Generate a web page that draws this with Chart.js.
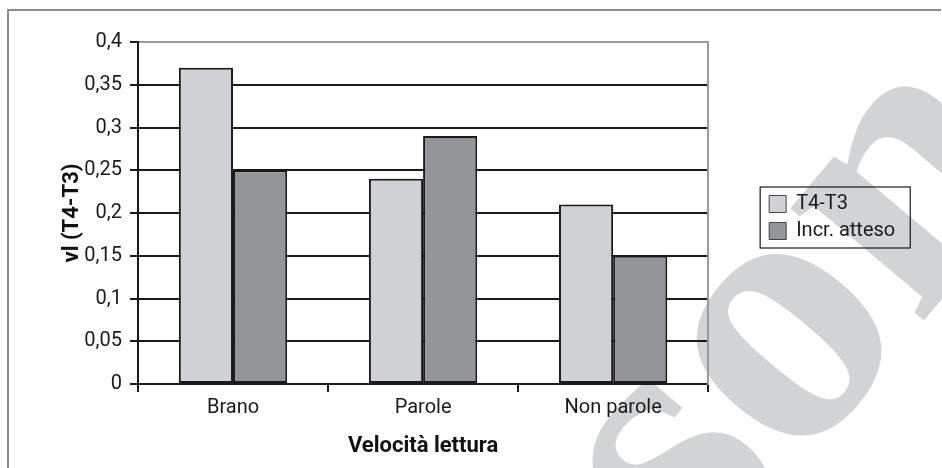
<!DOCTYPE html>
<html>
<head>
<meta charset="utf-8">
<script src="https://cdn.jsdelivr.net/npm/chart.js@4"></script>
<style>
  body { margin: 0; background: #fff; }
  canvas { display: block; }
</style>
</head>
<body>
<canvas id="chart" width="942" height="468"></canvas>
<script>
const categories = ['Brano', 'Parole', 'Non parole'];
const t4t3 = [0.37, 0.24, 0.21];
const incrAtteso = [0.25, 0.29, 0.15];
const seriesNames = ['T4-T3', 'Incr. atteso'];
const yMin = 0;
const yMax = 0.4;
const yStep = 0.05;

Chart.defaults.font.family = 'Roboto, "Noto Sans", sans-serif';
Chart.defaults.color = '#1a1a1a';

// white page, watermark behind everything
const backdrop = {
    id: 'backdrop',
    beforeDraw(chart) {
        const ctx = chart.ctx;
        ctx.save();
        ctx.fillStyle = '#fff';
        ctx.fillRect(0, 0, chart.width, chart.height);
        ctx.translate(212, 1169);
        ctx.rotate(-50 * Math.PI / 180);
        ctx.font = 'bold 380px "Liberation Serif", serif';
        ctx.fillStyle = '#d1d3d5';
        ctx.textBaseline = 'alphabetic';
        ctx.fillText('Pearson', 0, 0);
        ctx.restore();
    },
    afterDraw(chart) {
        const ctx = chart.ctx;
        ctx.save();
        // outer frame (top + left)
        ctx.strokeStyle = '#8c8c8c';
        ctx.lineWidth = 2;
        ctx.beginPath();
        ctx.moveTo(8, 470);
        ctx.lineTo(8, 10);
        ctx.lineTo(941, 10);
        ctx.stroke();
        // legend box
        const boxes = chart.legend.legendHitBoxes;
        if (boxes && boxes.length) {
            const first = boxes[0], last = boxes[boxes.length - 1];
            const left = first.left - 9;
            const right = Math.max(...boxes.map(b => b.left + b.width)) + 15;
            const top = first.top - 7;
            const bottom = last.top + last.height + 7;
            ctx.strokeStyle = '#1a1a1a';
            ctx.lineWidth = 1.2;
            ctx.strokeRect(left, top, right - left, bottom - top);
        }
        ctx.restore();
    }
};

new Chart(document.getElementById('chart').getContext('2d'), {
    type: 'bar',
    data: {
        labels: categories,
        datasets: [{
            label: seriesNames[0],
            data: t4t3,
            backgroundColor: '#cfd1d4',
            borderColor: '#1a1a1a',
            borderWidth: 2,
            borderSkipped: false,
            categoryPercentage: 0.57,
            barPercentage: 1.0
        }, {
            label: seriesNames[1],
            data: incrAtteso,
            backgroundColor: '#939598',
            borderColor: '#1a1a1a',
            borderWidth: 2,
            borderSkipped: false,
            categoryPercentage: 0.57,
            barPercentage: 1.0
        }]
    },
    options: {
        responsive: false,
        animation: false,
        layout: { padding: { left: 58, top: 42, right: 39, bottom: 8 } },
        plugins: {
            tooltip: { enabled: false },
            legend: {
                position: 'right',
                fullSize: false,
                title: { display: true, text: '', font: { size: 5 }, padding: 1.5 },
                labels: {
                    boxWidth: 17,
                    boxHeight: 17,
                    padding: 7,
                    font: { size: 20 },
                    color: '#1a1a1a',
                    generateLabels(chart) {
                        return chart.data.datasets.map((ds, i) => ({
                            text: ds.label,
                            fillStyle: ds.backgroundColor,
                            strokeStyle: '#444',
                            lineWidth: 1,
                            datasetIndex: i
                        }));
                    }
                }
            }
        },
        scales: {
            x: {
                offset: true,
                grid: {
                    offset: true,
                    drawOnChartArea: false,
                    drawTicks: true,
                    tickLength: 8,
                    color: '#1a1a1a',
                    lineWidth: 2
                },
                border: { color: '#1a1a1a', width: 2 },
                ticks: { font: { size: 20 }, padding: 4, color: '#1a1a1a' },
                title: {
                    display: true,
                    text: 'Velocità lettura',
                    font: { size: 22, weight: 'bold' },
                    color: '#111',
                    padding: { top: 11, bottom: 0 }
                },
                afterFit: s => { s.height = 76; }
            },
            y: {
                min: yMin,
                max: yMax,
                grid: {
                    tickLength: 8,
                    lineWidth: 2,
                    color: ctx => (ctx.tick && Math.abs(ctx.tick.value - yMax) < 1e-9) ? '#9a9a9a' : '#1a1a1a',
                    tickColor: '#1a1a1a'
                },
                border: { color: '#1a1a1a', width: 2 },
                ticks: {
                    stepSize: yStep,
                    padding: 8,
                    font: { size: 20 },
                    color: '#1a1a1a',
                    callback: v => String(Math.round(v * 100) / 100).replace('.', ',')
                },
                title: {
                    display: true,
                    text: 'vl (T4-T3)',
                    font: { size: 22, weight: 'bold' },
                    color: '#111',
                    padding: { top: 1, bottom: 0 }
                },
                afterFit: s => { s.width = 80; }
            },
            yRight: {
                position: 'right',
                display: true,
                grid: { display: false, drawOnChartArea: false },
                ticks: { display: false },
                border: { color: '#9a9a9a', width: 2 },
                afterFit: s => { s.width = 54; }
            }
        }
    },
    plugins: [backdrop]
});
</script>
</body>
</html>
